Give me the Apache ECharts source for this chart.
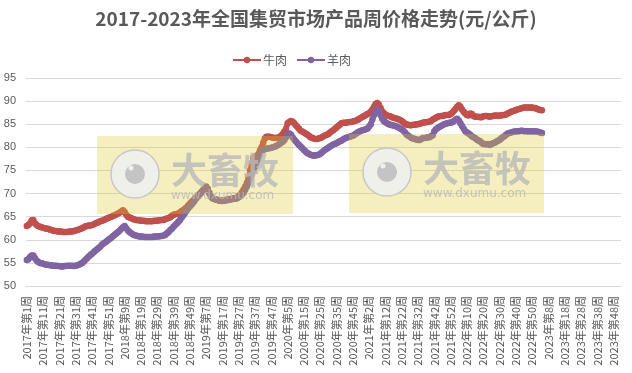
<!DOCTYPE html>
<html>
<head>
<meta charset="utf-8">
<style>
  html, body { margin: 0; padding: 0; background: #fff; }
  #main { width: 632px; height: 373px; }
</style>
<script src="https://cdn.jsdelivr.net/npm/echarts@6/dist/echarts.min.js"></script>
</head>
<body>
<div id="main"></div>
<script>
var titleText = '2017-2023年全国集贸市场产品周价格走势(元/公斤)';
var years = [2017, 2018, 2019, 2020, 2021, 2022, 2023];
var weeksInYear = [52, 52, 52, 53, 52, 52, 52];

var beef2017 = [
  63.0, 63.2, 63.6, 64.2, 64.3, 63.6, 63.2, 63.0, 62.8, 62.7,
  62.6, 62.5, 62.4, 62.4, 62.2, 62.1, 62.0, 61.9, 61.9, 61.8,
  61.8, 61.8, 61.7, 61.7, 61.7, 61.7, 61.8, 61.8, 61.8, 61.9,
  62.0, 62.1, 62.2, 62.4, 62.5, 62.7, 62.9, 63.0, 63.1, 63.1,
  63.2, 63.3, 63.5, 63.7, 63.8, 64.0, 64.1, 64.2, 64.4, 64.6,
  64.7, 64.9
];
var beef2018 = [
  65.0, 65.2, 65.3, 65.5, 65.7, 65.9, 66.1, 66.4, 66.0, 65.4,
  65.0, 64.8, 64.7, 64.5, 64.4, 64.3, 64.2, 64.2, 64.1, 64.1,
  64.1, 64.0, 64.0, 64.0, 64.0, 64.0, 64.1, 64.1, 64.1, 64.2,
  64.2, 64.3, 64.3, 64.5, 64.6, 64.7, 64.9, 65.2, 65.4, 65.5,
  65.6, 65.7, 65.9, 66.2, 66.4, 66.7, 67.0, 67.4, 67.8, 68.2,
  68.5, 68.9
];
var beef2019 = [
  69.2, 69.6, 69.9, 70.3, 70.7, 71.1, 71.5, 71.0, 70.2, 69.4,
  69.0, 68.8, 68.7, 68.6, 68.5, 68.5, 68.5, 68.5, 68.6, 68.7,
  68.8, 68.8, 68.9, 69.0, 69.0, 69.2, 69.5, 69.8, 70.3, 70.9,
  71.5, 72.3, 73.4, 75.0, 76.5, 77.8, 78.0, 77.6, 78.5, 79.3,
  80.0, 81.0, 81.9, 82.3, 82.3, 82.3, 82.2, 82.1, 82.0, 82.1,
  82.1, 82.2
];
var beef2020 = [
  82.5, 82.9, 83.4, 84.0, 85.2, 85.5, 85.7, 85.6, 85.2, 84.8,
  84.4, 84.0, 83.6, 83.4, 83.2, 83.0, 82.8, 82.5, 82.2, 82.1,
  81.9, 81.8, 81.8, 81.9, 82.0, 82.2, 82.4, 82.6, 82.7, 82.9,
  83.2, 83.5, 83.7, 84.0, 84.3, 84.6, 84.9, 85.2, 85.3, 85.3,
  85.3, 85.4, 85.5, 85.5, 85.6, 85.7, 85.8, 85.9, 86.2, 86.4,
  86.6, 86.8, 87.0
];
var beef2021 = [
  87.2, 87.4, 87.7, 88.2, 88.8, 89.4, 89.6, 89.2, 88.5, 87.8,
  87.4, 87.1, 86.9, 86.8, 86.7, 86.5, 86.4, 86.3, 86.2, 86.1,
  85.9, 85.7, 85.4, 85.1, 84.9, 84.9, 84.8, 84.8, 84.9, 84.9,
  85.0, 85.0, 85.1, 85.2, 85.3, 85.4, 85.4, 85.5, 85.6, 85.7,
  86.0, 86.2, 86.4, 86.6, 86.7, 86.8, 86.8, 86.9, 87.0, 87.0,
  87.0, 87.2
];
var beef2022 = [
  87.5, 87.9, 88.3, 88.8, 89.1, 88.8, 88.2, 87.7, 87.3, 87.0,
  86.9, 87.3, 87.2, 86.8, 86.6, 86.6, 86.6, 86.5, 86.5, 86.7,
  86.8, 86.8, 86.7, 86.6, 86.7, 86.8, 86.9, 86.9, 86.8, 86.9,
  86.9, 87.0, 87.0, 87.1, 87.3, 87.5, 87.7, 87.8, 87.9, 88.1,
  88.2, 88.3, 88.4, 88.5, 88.6, 88.6, 88.6, 88.6, 88.6, 88.6,
  88.5, 88.5
];
var beef2023 = [88.3, 88.2, 88.1, 88.0];

var mutton2017 = [
  55.6, 55.8, 56.3, 56.6, 56.6, 56.0, 55.5, 55.2, 55.0, 54.9,
  54.8, 54.7, 54.6, 54.6, 54.5, 54.5, 54.4, 54.4, 54.4, 54.3,
  54.3, 54.2, 54.2, 54.3, 54.3, 54.4, 54.4, 54.4, 54.4, 54.3,
  54.4, 54.5, 54.6, 54.8, 55.0, 55.3, 55.7, 56.0, 56.4, 56.7,
  57.0, 57.3, 57.6, 57.9, 58.2, 58.5, 58.9, 59.2, 59.4, 59.7,
  60.0, 60.2
];
var mutton2018 = [
  60.5, 60.8, 61.1, 61.4, 61.7, 62.0, 62.4, 62.7, 63.0, 62.5,
  62.0, 61.7, 61.4, 61.2, 61.0, 60.9, 60.8, 60.7, 60.7, 60.7,
  60.6, 60.6, 60.6, 60.6, 60.6, 60.6, 60.7, 60.7, 60.7, 60.7,
  60.8, 60.8, 60.9, 61.1, 61.4, 61.7, 62.1, 62.4, 62.8, 63.2,
  63.5, 63.9, 64.3, 64.8, 65.3, 65.8, 66.3, 66.8, 67.2, 67.6,
  68.0, 68.5
];
var mutton2019 = [
  69.0, 69.4, 69.8, 70.2, 70.6, 71.0, 71.4, 71.0, 70.0, 69.3,
  69.0, 68.8, 68.7, 68.6, 68.5, 68.4, 68.4, 68.5, 68.5, 68.6,
  68.6, 68.7, 68.8, 68.8, 68.9, 69.0, 69.2, 69.4, 69.8, 70.2,
  70.8, 71.5, 72.3, 73.2, 74.2, 75.0, 75.8, 76.6, 77.5, 78.5,
  79.2, 79.5, 79.6, 79.7, 79.8, 79.8, 79.9, 80.0, 80.1, 80.3,
  80.5, 80.7
];
var mutton2020 = [
  81.0, 81.2, 81.6, 82.2, 82.8, 83.0, 82.8, 82.2, 81.7, 81.3,
  80.9, 80.5, 80.2, 79.8, 79.4, 79.1, 78.8, 78.6, 78.4, 78.3,
  78.2, 78.3, 78.3, 78.4, 78.6, 78.9, 79.2, 79.5, 79.7, 79.9,
  80.2, 80.4, 80.6, 80.8, 80.9, 81.1, 81.3, 81.4, 81.7, 81.9,
  82.1, 82.2, 82.3, 82.4, 82.5, 82.7, 83.0, 83.2, 83.4, 83.6,
  83.7, 83.8, 83.9
];
var mutton2021 = [
  84.1, 84.5, 85.0, 86.0, 87.0, 87.8, 88.2, 87.8, 87.0, 86.2,
  85.7, 85.4, 85.2, 85.0, 84.9, 84.8, 84.7, 84.6, 84.5, 84.3,
  84.1, 83.9, 83.6, 83.2, 82.8, 82.5, 82.3, 82.0, 81.9, 81.8,
  81.7, 81.6, 81.6, 81.8, 82.0, 82.0, 82.1, 82.2, 82.2, 82.4,
  82.6, 83.5, 83.9, 84.2, 84.4, 84.6, 84.8, 85.0, 85.1, 85.2,
  85.3, 85.3
];
var mutton2022 = [
  85.4, 85.7, 86.0, 86.2, 85.8, 85.2, 84.6, 84.0, 83.5, 83.2,
  83.0, 82.7, 82.4, 82.2, 82.0, 81.7, 81.5, 81.3, 81.0, 80.7,
  80.7, 80.6, 80.7, 80.5, 80.7, 80.9, 81.0, 81.2, 81.4, 81.6,
  81.9, 82.2, 82.4, 82.7, 83.0, 83.1, 83.2, 83.3, 83.4, 83.4,
  83.5, 83.5, 83.6, 83.6, 83.5, 83.5, 83.5, 83.4, 83.5, 83.4,
  83.5, 83.4
];
var mutton2023 = [83.4, 83.3, 83.2, 83.1];

var categories = [];
years.forEach(function (y, k) {
  for (var w = 1; w <= weeksInYear[k]; w++) {
    categories.push(y + '年第' + w + '周');
  }
});

var beef = [].concat(beef2017, beef2018, beef2019, beef2020, beef2021, beef2022, beef2023);
var mutton = [].concat(mutton2017, mutton2018, mutton2019, mutton2020, mutton2021, mutton2022, mutton2023);

// 水印，压在折线上面
function watermark(x, y, w, h) {
  var cx = x + 38, cy = y + 38;
  return [
    { type: 'rect', z: 100, shape: { x: x, y: y, width: w, height: h },
      style: { fill: 'rgba(222,200,40,0.3)' } },
    { type: 'circle', z: 101, shape: { cx: cx, cy: cy, r: 24 },
      style: { fill: 'rgba(240,240,240,0.9)', stroke: '#c8c8c8', lineWidth: 1.5 } },
    { type: 'circle', z: 102, shape: { cx: cx, cy: cy, r: 10 }, style: { fill: '#c4c4c4' } },
    { type: 'circle', z: 103, shape: { cx: cx - 4, cy: cy - 6, r: 2.5 }, style: { fill: '#f0f0f0' } },
    { type: 'text', z: 101, x: x + 74, y: y + 16,
      style: { text: '大畜牧', font: 'bold 36px "Noto Sans CJK SC"', fill: 'rgba(185,185,185,0.8)' } },
    { type: 'text', z: 101, x: x + 74, y: y + 54,
      style: { text: 'www.dxumu.com', font: '12px "DejaVu Sans"', fill: 'rgba(185,185,185,0.8)' } }
  ];
}

var myChart = echarts.init(document.getElementById('main'));
myChart.setOption({
  animation: false,
  color: ['#C0504D', '#8064A2'],
  title: {
    text: titleText,
    left: 'center',
    top: 4,
    textStyle: { color: '#595959', fontSize: 19, fontWeight: 'bold', fontFamily: '"Noto Sans CJK SC"' }
  },
  legend: {
    top: 49,
    left: 227,
    itemWidth: 28,
    itemHeight: 8,
    itemGap: 9,
    textStyle: { color: '#595959', fontSize: 12, padding: [0, 0, 0, -3], fontFamily: '"Noto Sans CJK SC"' },
    data: ['牛肉', '羊肉']
  },
  grid: { left: 26, right: 11, top: 78, bottom: 87 },
  xAxis: {
    type: 'category',
    data: categories,
    boundaryGap: true,
    axisTick: { show: false },
    axisLine: { lineStyle: { color: '#D9D9D9' } },
    axisLabel: {
      interval: 9,
      rotate: 90,
      margin: 10,
      color: '#595959',
      fontSize: 11,
      fontFamily: '"Noto Sans CJK SC"'
    }
  },
  yAxis: {
    type: 'value',
    min: 50,
    max: 95,
    interval: 5,
    axisLine: { show: false },
    axisTick: { show: false },
    axisLabel: { color: '#595959', fontSize: 11, margin: 10, fontFamily: '"Liberation Sans"' },
    splitLine: { lineStyle: { color: '#D9D9D9', width: 1 } }
  },
  series: [
    { name: '牛肉', type: 'line', data: beef, symbol: 'circle', symbolSize: 6.5,
      showAllSymbol: true, lineStyle: { width: 5.5 } },
    { name: '羊肉', type: 'line', data: mutton, symbol: 'circle', symbolSize: 6.5,
      showAllSymbol: true, lineStyle: { width: 5.5 } }
  ],
  graphic: { elements: watermark(97, 136, 196, 78).concat(watermark(349, 134, 195, 79)) }
});
</script>
</body>
</html>
